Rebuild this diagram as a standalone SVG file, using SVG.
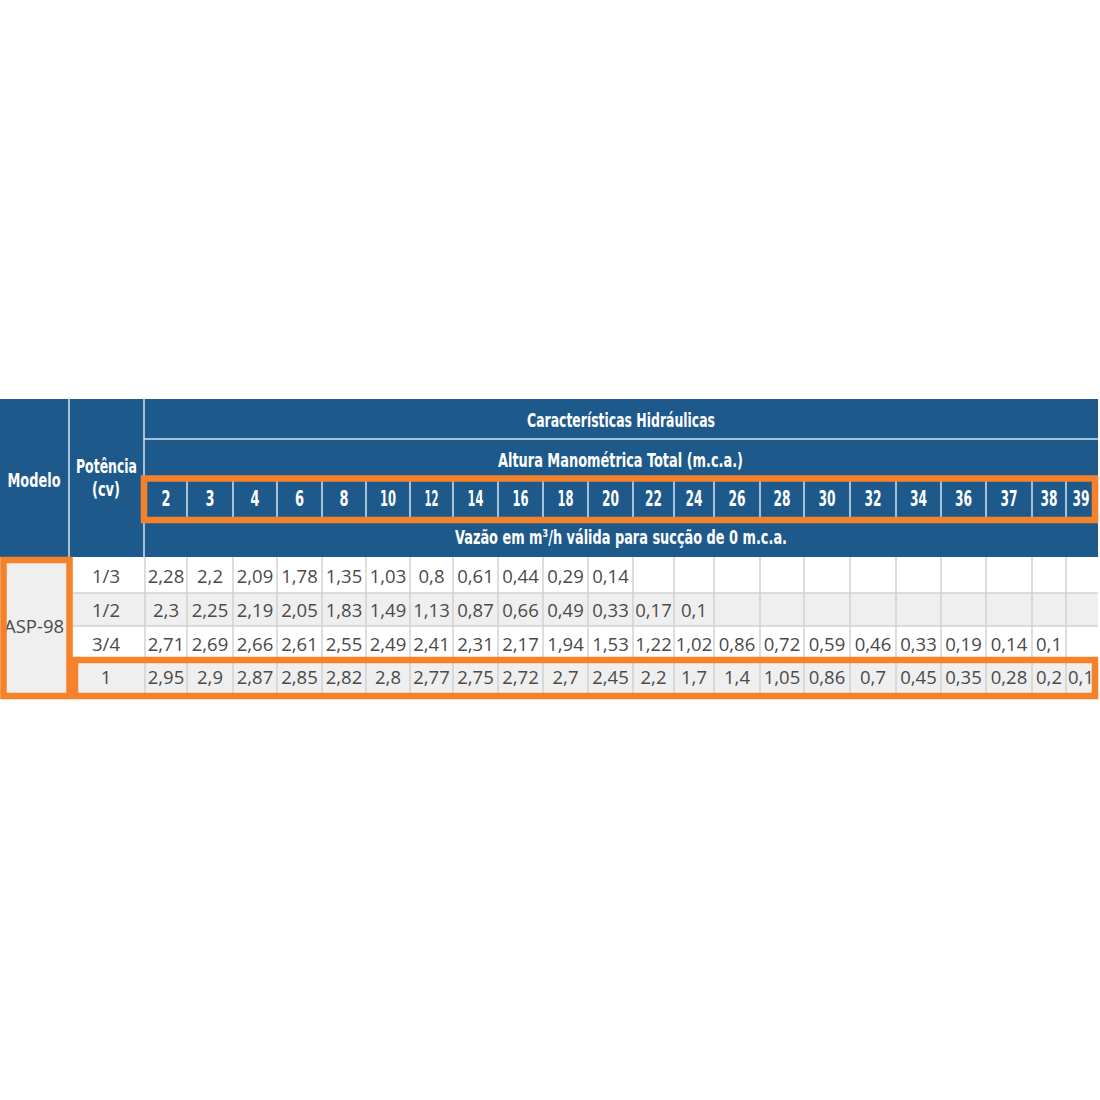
<svg xmlns="http://www.w3.org/2000/svg" width="1100" height="1100" viewBox="0 0 1100 1100">
<style>
.hd{fill:#1d5a8b}
.hl{stroke:#d3e4f1;stroke-width:1.5}
.gl{stroke:#d2d2d2;stroke-width:1.5}
.ht{font-family:"DejaVu Sans Condensed","DejaVu Sans",sans-serif;font-weight:bold;fill:#ffffff;text-anchor:middle;font-size:20px}
.hn{font-family:"DejaVu Sans Condensed","DejaVu Sans",sans-serif;font-weight:bold;fill:#ffffff;text-anchor:middle;font-size:22px}
.dt{font-family:"Open Sans","Noto Sans",sans-serif;fill:#4a4a4a;text-anchor:middle;font-size:18.5px}
.ob{fill:none;stroke:#f5822a;stroke-width:6.5}
</style>
<rect x="0" y="0" width="1100" height="1100" fill="#ffffff"/>
<g id="header">
<rect class="hd" x="0" y="399" width="1098" height="158"/>
<line class="hl" x1="69" y1="399" x2="69" y2="557"/>
<line class="hl" x1="144" y1="399" x2="144" y2="557"/>
<line class="hl" x1="144" y1="439" x2="1098" y2="439"/>
<g class="hl">
<line x1="187" y1="481" x2="187" y2="518"/><line x1="233" y1="481" x2="233" y2="518"/><line x1="277" y1="481" x2="277" y2="518"/><line x1="322" y1="481" x2="322" y2="518"/><line x1="366" y1="481" x2="366" y2="518"/><line x1="410" y1="481" x2="410" y2="518"/><line x1="453" y1="481" x2="453" y2="518"/><line x1="498" y1="481" x2="498" y2="518"/><line x1="543" y1="481" x2="543" y2="518"/><line x1="588" y1="481" x2="588" y2="518"/><line x1="633" y1="481" x2="633" y2="518"/><line x1="674" y1="481" x2="674" y2="518"/><line x1="714" y1="481" x2="714" y2="518"/><line x1="760" y1="481" x2="760" y2="518"/><line x1="804" y1="481" x2="804" y2="518"/><line x1="850" y1="481" x2="850" y2="518"/><line x1="896" y1="481" x2="896" y2="518"/><line x1="941" y1="481" x2="941" y2="518"/><line x1="986" y1="481" x2="986" y2="518"/><line x1="1032" y1="481" x2="1032" y2="518"/><line x1="1066" y1="481" x2="1066" y2="518"/>
</g>
<text class="ht" x="34" y="487" textLength="53" lengthAdjust="spacingAndGlyphs">Modelo</text>
<text class="ht" x="106.5" y="473" textLength="61" lengthAdjust="spacingAndGlyphs">Potência</text>
<text class="ht" x="106" y="496" textLength="28" lengthAdjust="spacingAndGlyphs">(cv)</text>
<text class="ht" x="621" y="427" textLength="188" lengthAdjust="spacingAndGlyphs">Características Hidráulicas</text>
<text class="ht" x="620.5" y="467" textLength="245" lengthAdjust="spacingAndGlyphs">Altura Manométrica Total (m.c.a.)</text>
<text class="ht" x="621" y="544" textLength="332" lengthAdjust="spacingAndGlyphs">Vazão em m³/h válida para sucção de 0 m.c.a.</text>
<g class="hn">
<text x="166" y="506" textLength="9" lengthAdjust="spacingAndGlyphs">2</text>
<text x="210" y="506" textLength="9" lengthAdjust="spacingAndGlyphs">3</text>
<text x="255" y="506" textLength="9" lengthAdjust="spacingAndGlyphs">4</text>
<text x="299.5" y="506" textLength="9" lengthAdjust="spacingAndGlyphs">6</text>
<text x="344" y="506" textLength="9" lengthAdjust="spacingAndGlyphs">8</text>
<text x="388" y="506" textLength="16" lengthAdjust="spacingAndGlyphs">10</text>
<text x="431.5" y="506" textLength="14" lengthAdjust="spacingAndGlyphs">12</text>
<text x="475.5" y="506" textLength="16" lengthAdjust="spacingAndGlyphs">14</text>
<text x="520.5" y="506" textLength="16" lengthAdjust="spacingAndGlyphs">16</text>
<text x="565.5" y="506" textLength="16" lengthAdjust="spacingAndGlyphs">18</text>
<text x="610.5" y="506" textLength="17" lengthAdjust="spacingAndGlyphs">20</text>
<text x="653.5" y="506" textLength="17" lengthAdjust="spacingAndGlyphs">22</text>
<text x="694" y="506" textLength="17" lengthAdjust="spacingAndGlyphs">24</text>
<text x="737" y="506" textLength="17" lengthAdjust="spacingAndGlyphs">26</text>
<text x="782" y="506" textLength="17" lengthAdjust="spacingAndGlyphs">28</text>
<text x="827" y="506" textLength="17" lengthAdjust="spacingAndGlyphs">30</text>
<text x="873" y="506" textLength="17" lengthAdjust="spacingAndGlyphs">32</text>
<text x="918.5" y="506" textLength="17" lengthAdjust="spacingAndGlyphs">34</text>
<text x="963.5" y="506" textLength="17" lengthAdjust="spacingAndGlyphs">36</text>
<text x="1009" y="506" textLength="17" lengthAdjust="spacingAndGlyphs">37</text>
<text x="1049" y="506" textLength="17" lengthAdjust="spacingAndGlyphs">38</text>
<text x="1081" y="506" textLength="17" lengthAdjust="spacingAndGlyphs">39</text>
</g>
</g>
<g id="body">
<rect x="0" y="557" width="1098" height="139" fill="#ffffff"/>
<rect x="73" y="593" width="1025" height="33" fill="#efefef"/>
<rect x="73" y="660" width="1025" height="36" fill="#efefef"/>
<rect x="0" y="557" width="73" height="139" fill="#efefef"/>
<g class="gl">
<line x1="73" y1="593" x2="1098" y2="593"/><line x1="73" y1="626" x2="1098" y2="626"/><line x1="73" y1="660" x2="1098" y2="660"/>
<line x1="145" y1="557" x2="145" y2="696"/><line x1="187" y1="557" x2="187" y2="696"/><line x1="233" y1="557" x2="233" y2="696"/><line x1="277" y1="557" x2="277" y2="696"/><line x1="322" y1="557" x2="322" y2="696"/><line x1="366" y1="557" x2="366" y2="696"/><line x1="410" y1="557" x2="410" y2="696"/><line x1="453" y1="557" x2="453" y2="696"/><line x1="498" y1="557" x2="498" y2="696"/><line x1="543" y1="557" x2="543" y2="696"/><line x1="588" y1="557" x2="588" y2="696"/><line x1="633" y1="557" x2="633" y2="696"/><line x1="674" y1="557" x2="674" y2="696"/><line x1="714" y1="557" x2="714" y2="696"/><line x1="760" y1="557" x2="760" y2="696"/><line x1="804" y1="557" x2="804" y2="696"/><line x1="850" y1="557" x2="850" y2="696"/><line x1="896" y1="557" x2="896" y2="696"/><line x1="941" y1="557" x2="941" y2="696"/><line x1="986" y1="557" x2="986" y2="696"/><line x1="1032" y1="557" x2="1032" y2="696"/><line x1="1066" y1="557" x2="1066" y2="696"/>
</g>
<g class="dt">
<text x="34" y="633">ASP-98</text>
<text x="106" y="583">1/3</text>
<text x="106" y="617">1/2</text>
<text x="106" y="651">3/4</text>
<text x="106" y="684">1</text>
</g>
<g id="row-1-3" class="dt">
<text x="166" y="583">2,28</text><text x="210" y="583">2,2</text><text x="255" y="583">2,09</text><text x="299.5" y="583">1,78</text><text x="344" y="583">1,35</text><text x="388" y="583">1,03</text><text x="431.5" y="583">0,8</text><text x="475.5" y="583">0,61</text><text x="520.5" y="583">0,44</text><text x="565.5" y="583">0,29</text><text x="610.5" y="583">0,14</text>
</g>
<g id="row-1-2" class="dt">
<text x="166" y="617">2,3</text><text x="210" y="617">2,25</text><text x="255" y="617">2,19</text><text x="299.5" y="617">2,05</text><text x="344" y="617">1,83</text><text x="388" y="617">1,49</text><text x="431.5" y="617">1,13</text><text x="475.5" y="617">0,87</text><text x="520.5" y="617">0,66</text><text x="565.5" y="617">0,49</text><text x="610.5" y="617">0,33</text><text x="653.5" y="617">0,17</text><text x="694" y="617">0,1</text>
</g>
<g id="row-3-4" class="dt">
<text x="166" y="651">2,71</text><text x="210" y="651">2,69</text><text x="255" y="651">2,66</text><text x="299.5" y="651">2,61</text><text x="344" y="651">2,55</text><text x="388" y="651">2,49</text><text x="431.5" y="651">2,41</text><text x="475.5" y="651">2,31</text><text x="520.5" y="651">2,17</text><text x="565.5" y="651">1,94</text><text x="610.5" y="651">1,53</text><text x="653.5" y="651">1,22</text><text x="694" y="651">1,02</text><text x="737" y="651">0,86</text><text x="782" y="651">0,72</text><text x="827" y="651">0,59</text><text x="873" y="651">0,46</text><text x="918.5" y="651">0,33</text><text x="963.5" y="651">0,19</text><text x="1009" y="651">0,14</text><text x="1049" y="651">0,1</text>
</g>
<g id="row-1" class="dt">
<text x="166" y="684">2,95</text><text x="210" y="684">2,9</text><text x="255" y="684">2,87</text><text x="299.5" y="684">2,85</text><text x="344" y="684">2,82</text><text x="388" y="684">2,8</text><text x="431.5" y="684">2,77</text><text x="475.5" y="684">2,75</text><text x="520.5" y="684">2,72</text><text x="565.5" y="684">2,7</text><text x="610.5" y="684">2,45</text><text x="653.5" y="684">2,2</text><text x="694" y="684">1,7</text><text x="737" y="684">1,4</text><text x="782" y="684">1,05</text><text x="827" y="684">0,86</text><text x="873" y="684">0,7</text><text x="918.5" y="684">0,45</text><text x="963.5" y="684">0,35</text><text x="1009" y="684">0,28</text><text x="1049" y="684">0,2</text><text x="1081" y="684">0,1</text>
</g>
</g>
<g id="highlights">
<rect class="ob" x="144" y="478.5" width="951" height="41.5"/>
<rect class="ob" x="3.5" y="560" width="66" height="136"/>
<rect class="ob" x="75" y="660" width="1020" height="36"/>
</g>
</svg>
